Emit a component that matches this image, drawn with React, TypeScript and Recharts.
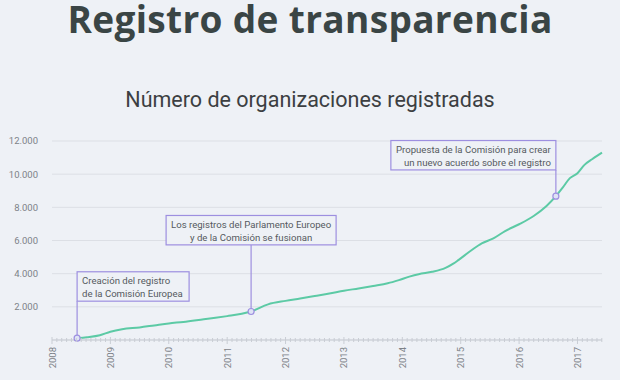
import { CartesianGrid, Line, LineChart, ReferenceDot, XAxis, YAxis } from "recharts";

const years = [
  2008.43, 2008.6, 2008.82, 2009.0, 2009.2, 2009.5, 2009.75, 2010.0, 2010.25, 2010.6,
  2010.8, 2011.0, 2011.25, 2011.41, 2011.7, 2012.0, 2012.25, 2012.5, 2012.75, 2013.0,
  2013.25, 2013.5, 2013.75, 2013.94, 2014.12, 2014.28, 2014.51, 2014.74, 2014.88, 2014.96,
  2015.19, 2015.36, 2015.56, 2015.76, 2016.0, 2016.25, 2016.47, 2016.63, 2016.75, 2016.87,
  2017.0, 2017.12, 2017.25, 2017.42,
];
const organizations = [
  110, 170, 290, 500, 650, 760, 880, 1000, 1090, 1250,
  1340, 1440, 1580, 1720, 2150, 2360, 2500, 2650, 2800, 2970,
  3110, 3260, 3420, 3610, 3820, 3970, 4110, 4350, 4620, 4820,
  5430, 5830, 6130, 6570, 6980, 7480, 8080, 8670, 9210, 9760,
  10060, 10560, 10900, 11300,
];
const yearTicks = [2008, 2009, 2010, 2011, 2012, 2013, 2014, 2015, 2016, 2017];
const valueTicks = [0, 2000, 4000, 6000, 8000, 10000, 12000];

const eventYears = [2008.43, 2011.41, 2016.63];
const eventValues = [110, 1720, 8670];
const eventLabels = [
  ["Creación del registro", "de la Comisión Europea"],
  ["Los registros del Parlamento Europeo", "y de la Comisión se fusionan"],
  ["Propuesta de la Comisión para crear", "un nuevo acuerdo sobre el registro"],
];

// box placement relative to the marked point (pixels)
const eventBoxes = [
  { align: "start", width: 112, rise: 37 },
  { align: "middle", width: 170, rise: 66.6 },
  { align: "end", width: 165, rise: 26.3 },
];

const data = years.map((year, i) => ({ year, count: organizations[i] }));

// monthly minor ticks, labelled only on whole years
const monthTicks: number[] = [];
for (let m = 0; 2008 + m / 12 <= 2017.42; m++) monthTicks.push(2008 + m / 12);

const BG = "#eef1f6";
const PURPLE = "#9d8fe0";
const GREEN = "#5ccaa5";
const FONT = "Roboto, 'Noto Sans', sans-serif";

const formatValue = (v: number) => (v === 0 ? "" : v.toLocaleString("de-DE"));

function YearTick(props: any) {
  const { x, y, payload } = props;
  const v = payload.value as number;
  const major = yearTicks.some((t) => Math.abs(t - v) < 0.01);
  return (
    <g>
      <line x1={x} x2={x} y1={major ? y - 3 : y - 2} y2={major ? y + 4 : y + 2} stroke="#c9cdd4" strokeWidth={1} />
      {major && (
        <text
          x={x + 3.5}
          y={y + 7}
          transform={`rotate(-90, ${x + 3.5}, ${y + 7})`}
          textAnchor="end"
          fontSize={9.5}
          fontFamily={FONT}
          fill="#7d8288"
        >
          {Math.round(v)}
        </text>
      )}
    </g>
  );
}

function annotationShape(index: number) {
  return (props: any) => {
    const { cx, cy } = props;
    const box = eventBoxes[index];
    const height = 29.4;
    const bottom = cy - box.rise;
    const top = bottom - height;
    let left = cx;
    if (box.align === "middle") left = cx - box.width / 2;
    if (box.align === "end") left = cx - box.width;
    let textX = left + 5;
    if (box.align === "middle") textX = cx;
    if (box.align === "end") textX = cx - 5;
    return (
      <g>
        <line x1={cx} x2={cx} y1={bottom} y2={cy - 3} stroke={PURPLE} strokeWidth={1.2} />
        <rect x={left} y={top} width={box.width} height={height} fill={BG} stroke={PURPLE} strokeWidth={1.2} />
        {eventLabels[index].map((line, k) => (
          <text
            key={k}
            x={textX}
            y={top + 12.4 + k * 13}
            textAnchor={box.align}
            fontSize={9.6}
            fontFamily={FONT}
            fill="#555a60"
          >
            {line}
          </text>
        ))}
        <circle cx={cx} cy={cy} r={3} fill="#dfe3f5" stroke={PURPLE} strokeWidth={1.2} />
      </g>
    );
  };
}

export default function App() {
  return (
    <div style={{ position: "absolute", left: 0, top: 0, width: 620, height: 380, background: BG, overflow: "hidden" }}>
      <div
        style={{
          position: "absolute",
          top: 0,
          left: 0,
          width: 620,
          textAlign: "center",
          fontFamily: "'Open Sans', Lato, sans-serif",
          fontWeight: 700,
          fontSize: 37,
          lineHeight: "37px",
          letterSpacing: 0.35,
          color: "#3a4545",
        }}
      >
        Registro de transparencia
      </div>
      <div
        style={{
          position: "absolute",
          top: 88.6,
          left: 0,
          width: 620,
          textAlign: "center",
          fontFamily: FONT,
          fontSize: 21.5,
          lineHeight: 1,
          color: "#3c3f42",
        }}
      >
        Número de organizaciones registradas
      </div>
      <div style={{ position: "absolute", left: 0, top: 0 }}>
        <LineChart width={620} height={380} data={data} margin={{ top: 141, right: 18, bottom: 0, left: 6 }}>
          <CartesianGrid vertical={false} stroke="#dcdfe5" strokeWidth={1} />
          <XAxis
            dataKey="year"
            type="number"
            domain={[2008, 2017.42]}
            ticks={monthTicks}
            interval={0}
            tick={<YearTick />}
            tickLine={false}
            tickSize={0}
            tickMargin={0}
            height={40}
            stroke="#c9cdd4"
          />
          <YAxis
            type="number"
            domain={[0, 12000]}
            ticks={valueTicks}
            tickFormatter={formatValue}
            axisLine={false}
            tickLine={false}
            tickMargin={8}
            width={46}
            tick={{ fontSize: 9.5, fontFamily: FONT, fill: "#7d8288" }}
          />
          <Line
            type="monotone"
            dataKey="count"
            stroke={GREEN}
            strokeWidth={2}
            dot={false}
            isAnimationActive={false}
          />
          {eventYears.map((ey, i) => (
            <ReferenceDot key={i} x={ey} y={eventValues[i]} ifOverflow="visible" shape={annotationShape(i)} />
          ))}
        </LineChart>
      </div>
    </div>
  );
}
